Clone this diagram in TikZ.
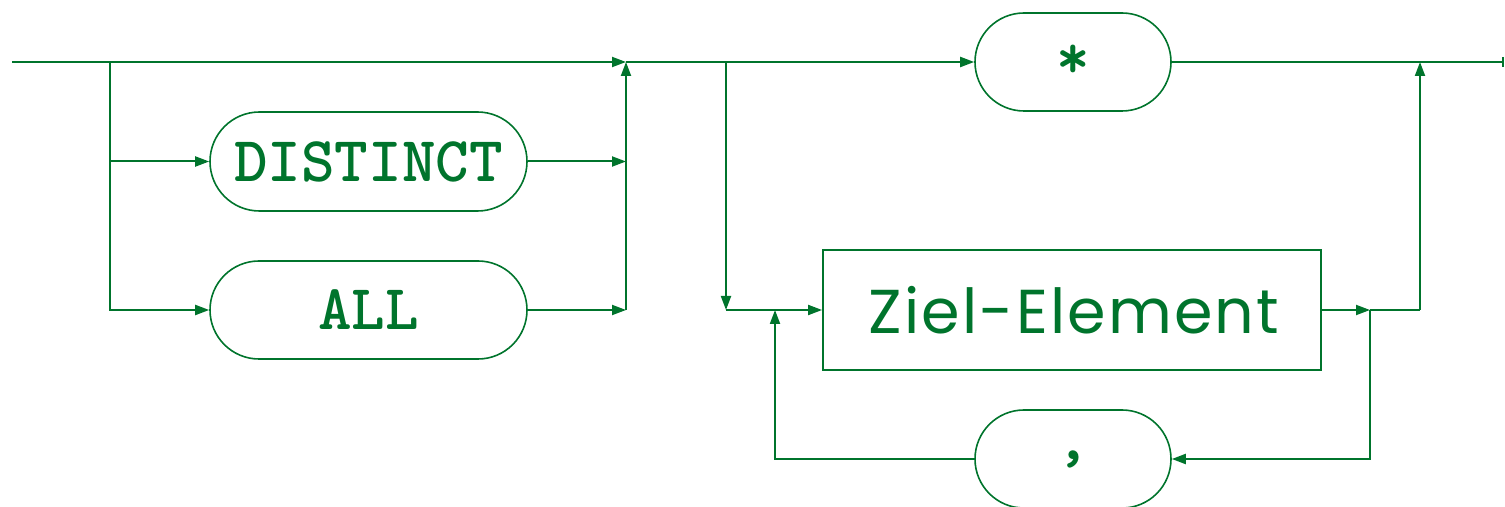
\documentclass[tikz,border=0pt]{standalone}
\usepackage{fontspec}
\newfontfamily\zfont[LetterSpace=3.5]{Poppins}
\usetikzlibrary{arrows.meta,shapes.misc}
\definecolor{sg}{RGB}{0,116,44}
\tikzset{
  conn/.style={draw=sg,line width=1pt},
  arr/.style={conn,-{Triangle[length=7pt,width=5pt]}},
  term/.style={rounded rectangle,draw=sg,line width=0.8pt,text=sg,inner sep=0pt,
    font=\fontsize{32}{38}\selectfont\ttfamily\bfseries},
  nonterm/.style={rectangle,draw=sg,line width=0.9pt,text=sg,inner sep=0pt,
    minimum width=249pt,minimum height=60pt,font=\zfont\fontsize{31}{36}\selectfont},
}
\begin{document}
\begin{tikzpicture}[x=0.5pt,y=-0.5pt]
\useasboundingbox (0,0) rectangle (1505,507);
% nodes
\node[term,minimum width=158.5pt,minimum height=49.5pt] (D) at (368.5,161.5) {DISTINCT};
\node[term,minimum width=158.5pt,minimum height=49pt] (A) at (368.5,310) {ALL};
\node[term,minimum width=98pt,minimum height=49pt] (S) at (1073,62) {*};
\node[term,minimum width=98pt,minimum height=49pt] (C) at (1073,459) {,};
\node[nonterm] (Z) at (1072,310) {\hspace*{2pt}Ziel-Element};
% coordinates
\coordinate (st) at (12,62);
\coordinate (j1) at (110,62);
\coordinate (m1) at (626,62);
\coordinate (m2) at (626,310);
\coordinate (j2) at (726,62);
\coordinate (j2b) at (726,310);
\coordinate (lp) at (775,310);
\coordinate (r1) at (1370,310);
\coordinate (r2) at (1420,310);
\coordinate (j3) at (1420,62);
\coordinate (en) at (1504,62);
% connectors
\draw[arr] (st) -- (m1);
\draw[arr] (j1) |- (D.west);
\draw[arr] (j1) |- (A.west);
\draw[arr] (D.east) -- (D.east -| m1);
\draw[arr] (A.east) -- (m2);
\draw[arr] (m2) -- (m1);
\draw[arr] (m1) -- (S.west);
\draw[conn,-{Bar[width=5pt,line width=1pt]}] (S.east) -- (en);
\draw[arr] (j2) -- (j2b);
\draw[arr] (j2b) -- (Z.west);
\draw[arr] (Z.east) -- (r1);
\draw[conn] (r1) -- (r2);
\draw[arr] (r2) -- (j3);
\draw[arr] (r1) |- (C.east);
\draw[arr] (C.west) -| (lp);
\end{tikzpicture}
\end{document}
